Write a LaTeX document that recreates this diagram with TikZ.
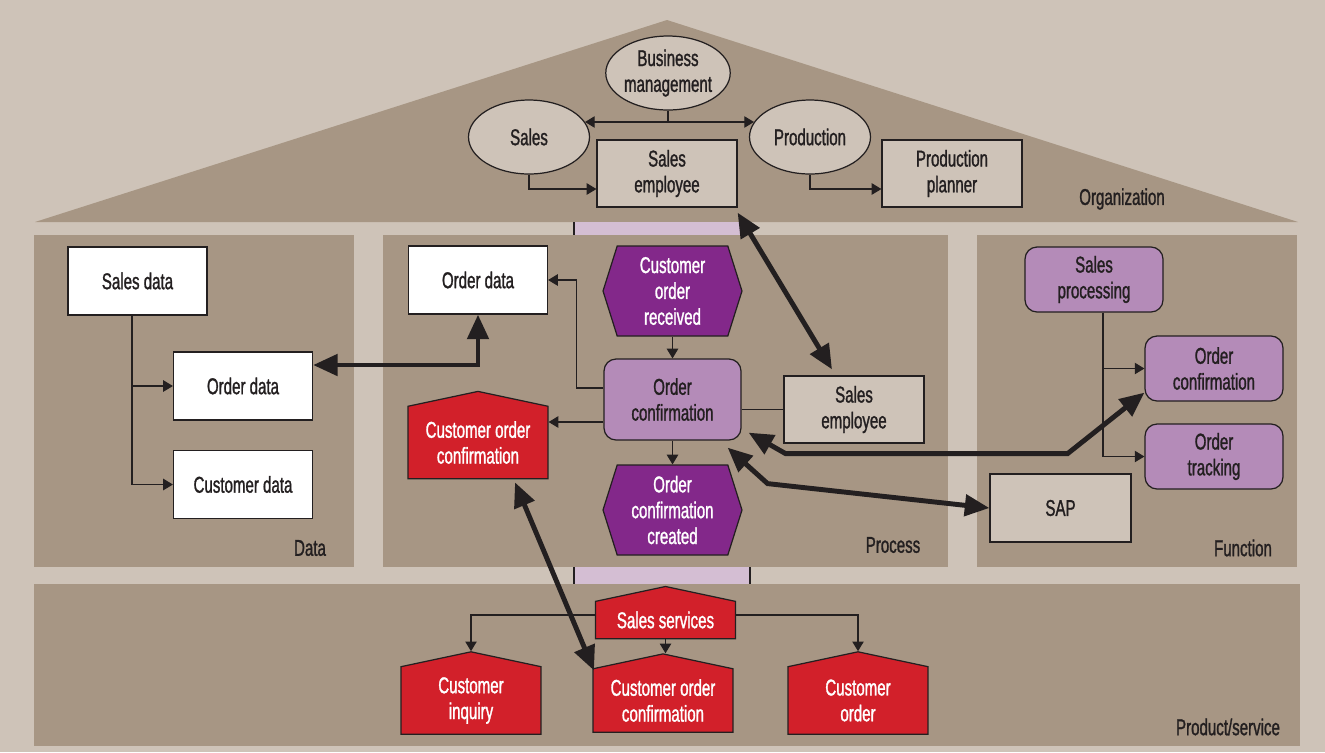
\documentclass[tikz,border=0pt]{standalone}
\usepackage{fontspec}
\setmainfont{Liberation Sans}[FakeStretch=0.66, FakeBold=1.2]
\usepackage{tikz}
\usetikzlibrary{arrows.meta,shapes,positioning,calc}
\usepackage{xcolor}

\definecolor{bgl}{RGB}{206,195,184}
\definecolor{panel}{RGB}{167,150,132}
\definecolor{edge}{RGB}{35,31,32}
\definecolor{pdark}{RGB}{131,40,138}
\definecolor{plight}{RGB}{180,139,184}
\definecolor{redp}{RGB}{210,32,42}
\definecolor{barp}{RGB}{212,190,211}

\tikzset{
  lbox/.style={draw=edge, line width=0.7pt, fill=bgl, text=edge, minimum width=2.8cm, minimum height=1.34cm, align=center, inner sep=1pt},
  wbox/.style={lbox, fill=white, minimum width=2.78cm, minimum height=1.36cm},
  oval/.style={ellipse, draw=edge, line width=0.7pt, fill=bgl, text=edge, minimum width=2.42cm, minimum height=1.48cm, inner sep=0pt, align=center},
  func/.style={rounded corners=0.24cm, draw=edge, line width=0.7pt, fill=plight, text=edge, minimum width=2.76cm, minimum height=1.3cm, align=center},
  event/.style={signal, signal to=east and west, signal pointer angle=145, draw=edge, line width=0.7pt, fill=pdark, text=white, minimum width=2.78cm, minimum height=1.8cm, inner sep=1pt, align=center},
  house/.style={signal, signal to=north, signal pointer angle=156, draw=edge, line width=0.7pt, fill=redp, text=white, minimum width=2.8cm, align=center, inner sep=1pt},
  layer/.style={text=edge},
  thinarr/.style={draw=edge, line width=0.6pt, -{Triangle[length=5.5pt,width=6.5pt]}},
  thinboth/.style={draw=edge, line width=0.6pt, {Triangle[length=5.5pt,width=6.5pt]}-{Triangle[length=5.5pt,width=6.5pt]}},
  bigarr/.style={draw=edge, line width=2.8pt, {Triangle[length=14pt,width=12pt]}-{Triangle[length=14pt,width=12pt]}},
}

\begin{document}
\begin{tikzpicture}[x=0.02cm, y=-0.02cm, font=\fontsize{13}{14.7}\selectfont]
    \useasboundingbox (0,0) rectangle (1325,752);
    \fill[bgl] (0,0) rectangle (1325,752);

    % House: roof and the four layers
    \fill[panel] (35,222) -- (667,20) -- (1298,222) -- cycle;
    \fill[panel] (34,235) rectangle (354,567);
    \fill[panel] (383,235) rectangle (948,567);
    \fill[panel] (977,235) rectangle (1297,567);
    \fill[panel] (34,584) rectangle (1300,746);

    % Purple column through the gaps
    \fill[barp] (574,222) rectangle (750,235);
    \fill[barp] (574,567) rectangle (750,584);
    \draw[edge, line width=0.8pt] (574,222) -- (574,235) (750,222) -- (750,235);
    \draw[edge, line width=0.8pt] (574,567) -- (574,584) (750,567) -- (750,584);

    % Organization
    \node[oval, minimum width=2.4cm] (bm) at (668,73) {Business\\management};
    \node[oval] (sales) at (529,137) {Sales};
    \node[oval] (prod) at (810,137) {Production};
    \node[lbox] (semp) at (667,173.5) {Sales\\employee};
    \node[lbox] (pplan) at (952,173.5) {Production\\planner};
    \node[layer] (lorg) at (1122,199) {Organization};

    \draw[thinboth] (sales.15) -- (prod.165);
    \draw[edge, line width=0.6pt] (bm.south) -- (bm.south |- sales.15);
    \draw[thinarr] (sales.south) |- ([yshift=-0.31cm]semp.west);
    \draw[thinarr] (prod.south) |- ([yshift=-0.31cm]pplan.west);

    % Data
    \node[wbox] (sdata) at (137.5,281) {Sales data};
    \node[wbox] (odata1) at (243,386) {Order data};
    \node[wbox] (cdata) at (243,484.5) {Customer data};
    \node[layer] (ldata) at (310,548) {Data};

    \draw[thinarr] ([xshift=-0.11cm]sdata.south) |- (odata1.west);
    \draw[thinarr] ([xshift=-0.11cm]sdata.south) |- (cdata.west);

    % Process
    \node[wbox] (odata2) at (478,280) {Order data};
    \node[event] (cor) at (672.5,291) {Customer\\order\\received};
    \node[func, minimum width=2.74cm, minimum height=1.62cm] (oc) at (672.5,399.5) {Order\\confirmation};
    \node[event] (occ) at (672.5,510) {Order\\confirmation\\created};
    \node[house, minimum height=1.68cm] (coc) at (478,442.5) {Customer order\\confirmation};
    \node[lbox] (semp2) at (854,409.5) {Sales\\employee};
    \node[layer] (lproc) at (893,545) {Process};

    \draw[thinarr] (cor.south) -- (oc.north);
    \draw[thinarr] (oc.south) -- (occ.north);
    \draw[thinarr] ([yshift=0.23cm]oc.west) -| ($(odata2.east)+(28,0)$) -- (odata2.east);
    \coordinate (ocl) at ([yshift=-0.45cm]oc.west);
    \draw[thinarr] (ocl) -- (ocl -| coc.east);
    \draw[edge, line width=0.6pt] (oc.east |- semp2.west) -- (semp2.west);

    % Function
    \node[func] (sproc) at (1094,279.5) {Sales\\processing};
    \node[func] (foc) at (1214,368.5) {Order\\confirmation};
    \node[func] (otrack) at (1214,456.5) {Order\\tracking};
    \node[lbox, minimum width=2.82cm, minimum height=1.36cm] (sap) at (1060.5,508) {SAP};
    \node[layer] (lfunc) at (1243,548) {Function};

    \draw[thinarr] ([xshift=0.18cm]sproc.south) |- (foc.west);
    \draw[thinarr] ([xshift=0.18cm]sproc.south) |- (otrack.west);

    % Product/service
    \node[house, minimum height=0.96cm] (ss) at (665.5,620) {Sales services};
    \node[house, minimum height=1.5cm] (ci) at (471,700.5) {Customer\\inquiry};
    \node[house, minimum height=1.5cm] (coc2) at (663,700.5) {Customer order\\confirmation};
    \node[house, minimum height=1.5cm] (co) at (858,700.5) {Customer\\order};
    \node[layer] (lprod) at (1228,727) {Product/service};

    \draw[thinarr] ([yshift=0.1cm]ss.west) -| (ci.north);
    \draw[thinarr] ([yshift=0.1cm]ss.east) -| (co.north);
    \draw[thinarr] (ss.south) -- (ss.south |- coc2.north);

    % Links between the views
    \draw[bigarr] (odata2.south) |- ([yshift=0.42cm]odata1.east);
    \draw[bigarr] ([yshift=-0.1cm]semp.south east) -- ([xshift=-0.44cm,yshift=0.12cm]semp2.north);
    \draw[bigarr] ([shift={(7,-8)}]oc.south east) -- ++(37,21) -- ++(282,0) -- ([yshift=0.18cm]foc.south west);
    \draw[bigarr] ([shift={(-14,7)}]oc.south east) -- ++(40,36) -- (sap.west);
    \draw[bigarr] ([shift={(37,3)}]coc.south) -- ([shift={(-69,-30)}]coc2.center);
\end{tikzpicture}
\end{document}
